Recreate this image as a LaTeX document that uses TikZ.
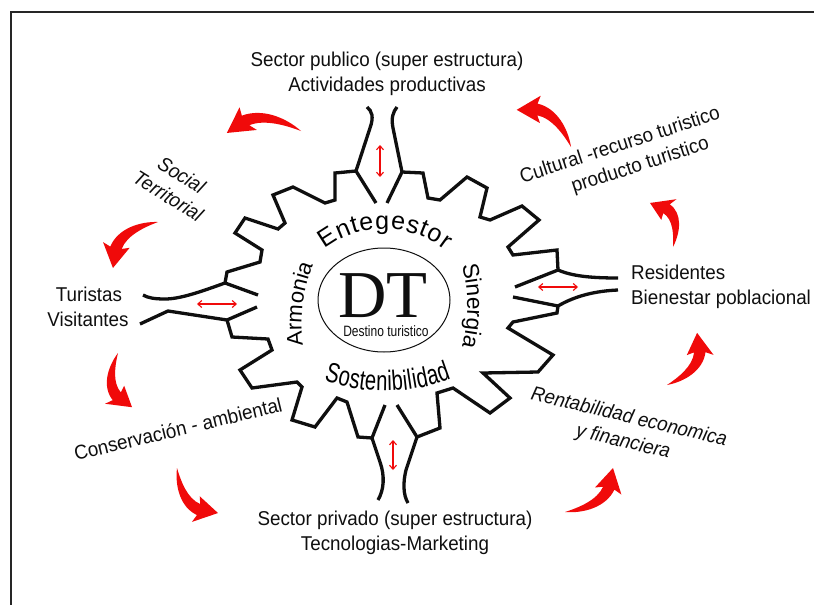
\documentclass[tikz,border=0pt]{standalone}
\usepackage{fontspec}
\setmainfont{Liberation Sans}[FakeStretch=0.94]
\newfontfamily\dtfont{Liberation Serif}
\newfontfamily\narrowfont{Liberation Sans}[FakeStretch=0.8]
\newfontfamily\tallfont{Liberation Sans}[FakeStretch=0.72]
\newfontfamily\arcfont{Liberation Sans}
\usetikzlibrary{decorations.text,arrows.meta,shapes.geometric}
\definecolor{swooshred}{RGB}{240,10,10}
\definecolor{ink}{RGB}{15,15,15}
\newcommand\lblsize{\fontsize{20}{25}\selectfont}
\newcommand\swoosh[4]{\fill[swooshred,shift={(#1,#2)},rotate=#3,xscale=#4] (0,0) .. controls (14,14) and (36,24) .. (55.4,16.9) -- (57.4,25.2) -- (70,0) -- (41.6,2.2) -- (48.6,7.1) .. controls (34,13) and (14,6) .. (0,0) -- cycle;}
\begin{document}
\begin{tikzpicture}[x=1pt,y=-1pt,
  gear/.style={line width=3.3pt,draw=ink,line join=miter,miter limit=4},
  lbl/.style={inner sep=0pt,font=\lblsize,text=ink},
  twoway/.style={draw=swooshred,line width=1.1pt,{Straight Barb[length=4pt,width=7pt]}-{Straight Barb[length=4pt,width=7pt]}},
]
\useasboundingbox (0,0) rectangle (814,605);
\fill[white] (0,0) rectangle (814,605);
\draw[line width=2pt,draw=black!85] (10.5,605) -- (10.5,11.5) -- (814,11.5);

% gear outline
\draw[gear] (356,171) -- (335,173) -- (335,200) -- (325,203) -- (293,187) -- (273,195) -- (285,223) -- (278,229) -- (245,218) -- (235,233) -- (262,250) -- (260,262) -- (227,272) -- (225,283);
\draw[gear] (402,172) -- (423,173) -- (428,198) -- (440,200) -- (467,177) -- (487,188) -- (480,217) -- (490,220) -- (522,206) -- (539,220) -- (508,247) -- (513,255) -- (557,250) -- (558,270);
\draw[gear] (558,306) -- (557,313) -- (513,322) -- (508,328) -- (553,355) -- (538,372) -- (483,373) -- (510,398) -- (490,413) -- (453,388) -- (437,393) -- (440,428) -- (417,437);
\draw[gear] (372,438) -- (358,437) -- (347,402) -- (337,398) -- (315,427) -- (292,420) -- (302,387) -- (297,382) -- (252,388) -- (240,370) -- (272,350) -- (268,339) -- (232,337) -- (227,320);

% channels
\draw[gear] (356,171) -- (370,128) .. controls (374,117) and (372,111) .. (367,107);
\draw[gear] (402,172) -- (393,128) .. controls (391,118) and (393,112) .. (397,107);
\draw[gear] (372,438) -- (380,462) .. controls (385,476) and (384,490) .. (378,500);
\draw[gear] (417,437) -- (406,470) .. controls (403,482) and (403,495) .. (408,503);
\draw[gear] (225,283) .. controls (200,292) and (180,299) .. (165,299) .. controls (155,299) and (148,298) .. (143,295);
\draw[gear] (227,320) -- (168,311) -- (140,324);
\draw[gear] (558,270) .. controls (572,276) and (590,278) .. (618,278);
\draw[gear] (558,306) .. controls (575,296) and (595,291) .. (618,290);
% inner edges
\draw[gear] (356,171) -- (376,203);
\draw[gear] (402,172) -- (387,203);
\draw[gear] (225,283) -- (258,295);
\draw[gear] (227,320) -- (257,307);
\draw[gear] (558,270) -- (515,287);
\draw[gear] (558,306) -- (513,297);
\draw[gear] (372,438) -- (385,405);
\draw[gear] (417,437) -- (397,405);

% two-way arrows
\coordinate (ta1) at (380,145); \coordinate (ta2) at (380,177);
\coordinate (ba1) at (393,440); \coordinate (ba2) at (393,470);
\coordinate (la1) at (197,304); \coordinate (la2) at (237,304);
\coordinate (ra1) at (538,287); \coordinate (ra2) at (578,287);
\draw[twoway] (ta1) -- (ta2);
\draw[twoway] (ba1) -- (ba2);
\draw[twoway] (la1) -- (la2);
\draw[twoway] (ra1) -- (ra2);

% centre
\node[draw=ink,line width=1pt,ellipse,minimum width=132pt,minimum height=104pt,inner sep=0pt] (dtoval) at (384,300) {};
\node[inner sep=0pt,anchor=base,text=ink,font=\dtfont\fontsize{67}{67}\selectfont] (dt) at (383,317) {DT};
\node[inner sep=0pt,anchor=base,text=ink,font=\narrowfont\fontsize{15}{15}\selectfont] (dest) at (386,336.5) {Destino turistico};

% arc words
\path[decorate,decoration={text along path,text={|\arcfont\fontsize{25}{25}\selectfont|Entegestor},text align=fit to path}] plot[domain=233:308,samples=60] ({384+99*cos(\x)},{328+99*sin(\x)});
\path[decorate,decoration={text along path,text={|\tallfont\fontsize{28}{28}\selectfont|Sostenibilidad},text align=fit to path}] plot[domain=109.3:69,samples=60] ({385+185*cos(\x)},{206+185*sin(\x)});
\path[decorate,decoration={text along path,text={|\arcfont\fontsize{22}{22}\selectfont|Armonia},text align=fit to path}] plot[domain=172.5:201.7,samples=40] ({461.6+160*cos(\x)},{324.2+160*sin(\x)});
\path[decorate,decoration={text along path,text={|\arcfont\fontsize{22.5}{22.5}\selectfont|Sinergia},text align=fit to path}] plot[domain=-14.8:14.8,samples=40] ({307.3+160*cos(\x)},{306+160*sin(\x)});

% labels
\node[lbl,anchor=base] (pub1) at (387,66.5) {Sector publico (super estructura)};
\node[lbl,anchor=base] (pub2) at (387,91) {Actividades productivas};
\node[lbl,anchor=base] (priv1) at (395,525.5) {Sector privado (super estructura)};
\node[lbl,anchor=base] (priv2) at (395,550) {Tecnologias-Marketing};
\node[lbl,anchor=base west] (res1) at (631,279) {Residentes};
\node[lbl,anchor=base west] (res2) at (631,304) {Bienestar poblacional};
\node[lbl,anchor=base] (tur1) at (89,301.5) {Turistas};
\node[lbl,anchor=base] (tur2) at (88,326.5) {Visitantes};
\node[lbl,rotate=18,align=left] (cul) at (624,158) {Cultural -recurso turistico\\\hspace*{46pt}producto turistico};
\node[lbl,rotate=-32,align=center,font=\lblsize\itshape] (soc) at (175,185.5) {Social\\Territorial};
\node[lbl,rotate=13.5] (cons) at (178,429) {Conservación - ambiental};
\node[lbl,rotate=-13.4,align=center,font=\lblsize\itshape] (ren) at (626,430) {Rentabilidad economica\\y financiera};

% red swooshes
\swoosh{301}{131}{-178.5}{1.06}
\swoosh{571}{147}{-214.4}{0.94}
\swoosh{673}{247}{117.6}{0.71}
\swoosh{667}{385}{60}{0.86}
\swoosh{565}{512}{42.5}{0.93}
\swoosh{177}{468}{-47.7}{0.87}
\swoosh{118}{353}{-75.5}{0.80}
\swoosh{158}{222}{-134.4}{0.92}
\end{tikzpicture}
\end{document}
